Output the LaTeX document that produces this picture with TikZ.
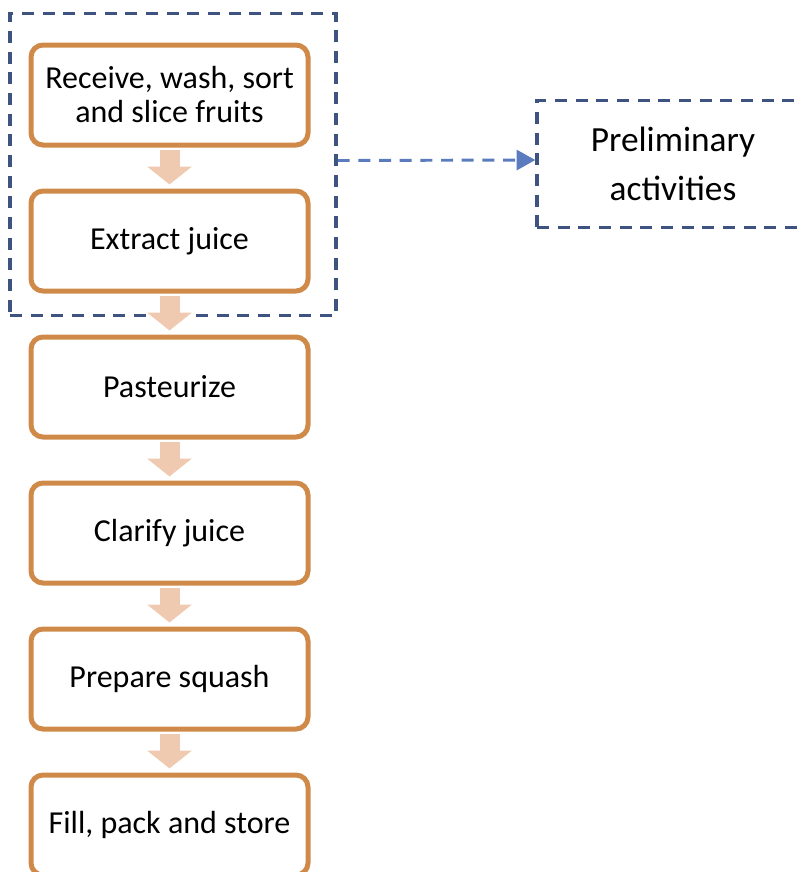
\documentclass[tikz,border=0pt]{standalone}
\usepackage{fontspec}
\setmainfont{Carlito}
\usepackage{tikz}
\usetikzlibrary{positioning,arrows.meta}
\definecolor{boxline}{HTML}{CF8A4A}
\definecolor{flowfill}{HTML}{F0CAB0}
\definecolor{groupline}{HTML}{3E5380}
\definecolor{linkline}{HTML}{5A7CBE}
\newcommand{\pxUnit}[0]{0.75pt}

\begin{document}
\begin{tikzpicture}[x=\pxUnit, y=-\pxUnit, node distance=30.75pt]
  \tikzset{stage/.style={draw=boxline, line width=3.75pt, rounded corners=9pt,
      minimum width=207.75pt, minimum height=75pt, align=center,
      font=\fontsize{24}{25.5}\selectfont},
    flow/.style={draw=flowfill, line width=15pt,
      -{Triangle[width=33pt,length=13.5pt,fill=flowfill]}},
    group/.style={draw=groupline, line width=2.5pt, dash pattern=on 9pt off 6.5pt},
    link/.style={draw=linkline, line width=2.2pt, dash pattern=on 9pt off 6.5pt,
      -{Triangle[width=15pt,length=14pt]}}}
  \useasboundingbox (0,0) rectangle (801,872);
  % process steps
  \node[stage] (step-1) at (169.5,95) {Receive, wash, sort\\and slice fruits};
  \node[stage, below=of step-1] (step-2) {Extract juice};
  \node[stage, below=of step-2] (step-3) {Pasteurize};
  \node[stage, below=of step-3] (step-4) {Clarify juice};
  \node[stage, below=of step-4] (step-5) {Prepare squash};
  \node[stage, below=of step-5] (step-6) {Fill, pack and store};
  % first two steps grouped
  \node[group, minimum width=244.5pt, minimum height=226.5pt] (prep) at (173,164.5) {};
  \node[group, minimum width=204pt, minimum height=95pt, align=center,
    font=\fontsize{26.5}{36.75}\selectfont] (prelim) at (673,164) {Preliminary\\activities};
  \draw[link] ([yshift=3pt]prep.east) -- ([yshift=3pt]prelim.west);
  \draw[flow] ([yshift=-2pt]step-1.south) -- ([yshift=3pt]step-2.north);
  \draw[flow] ([yshift=-2pt]step-2.south) -- ([yshift=3pt]step-3.north);
  \draw[flow] ([yshift=-2pt]step-3.south) -- ([yshift=3pt]step-4.north);
  \draw[flow] ([yshift=-2pt]step-4.south) -- ([yshift=3pt]step-5.north);
  \draw[flow] ([yshift=-2pt]step-5.south) -- ([yshift=3pt]step-6.north);
\end{tikzpicture}
\end{document}
